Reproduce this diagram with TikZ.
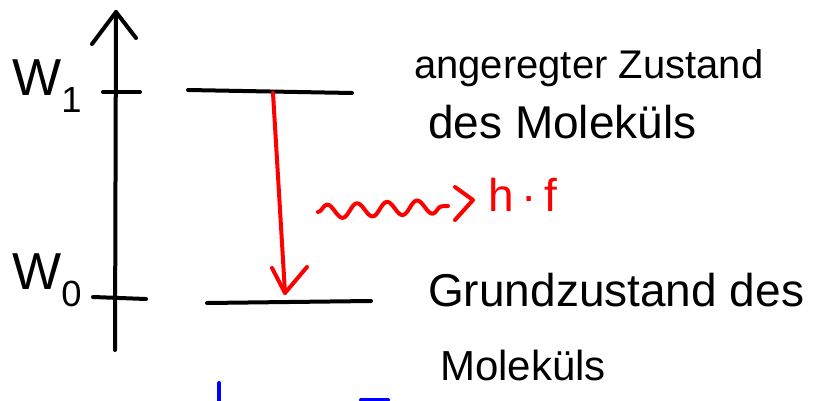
\documentclass[tikz,border=0pt]{standalone}
\usepackage{fontspec}
\setmainfont{Liberation Sans}
\usetikzlibrary{decorations.pathmorphing}
\begin{document}
\begin{tikzpicture}[x=1pt,y=-1pt,
  ink/.style={line width=4pt,line cap=round,line join=round},
  redink/.style={ink,draw={rgb,255:red,255;green,0;blue,0}},
  blueink/.style={ink,draw={rgb,255:red,0;green,0;blue,255}},
  lbl/.style={inner sep=0pt,anchor=west,font=\fontsize{42}{46}\selectfont},
  biglbl/.style={lbl,font=\fontsize{52}{56}\selectfont},
  rlbl/.style={lbl,font=\fontsize{46}{50}\selectfont,text={rgb,255:red,255;green,0;blue,0}}]
\useasboundingbox (0,0) rectangle (816,401);
% axis
\coordinate (axb) at (115,350);
\coordinate (axt) at (116,12);
\draw[ink] (axb) -- (axt);
\draw[ink] (92,44) -- (axt) -- (136,38);
% ticks
\coordinate (t1a) at (103,92); \coordinate (t1b) at (140,92);
\coordinate (t0a) at (93,297); \coordinate (t0b) at (146,299);
\draw[ink] (t1a) -- (t1b);
\draw[ink] (t0a) -- (t0b);
% labels
\node[biglbl] (w1) at (12,86) {W\textsubscript{1}};
\node[biglbl] (w0) at (12,280) {W\textsubscript{0}};
% levels
\coordinate (l1a) at (188,90); \coordinate (l1b) at (352,93);
\coordinate (l0a) at (207,303); \coordinate (l0b) at (371,301);
\draw[ink] (l1a) -- (l1b);
\draw[ink] (l0a) -- (l0b);
% red transition
\coordinate (ra) at (273,93);
\coordinate (rb) at (285,293);
\draw[redink] (ra) -- (rb);
\draw[redink] (272,268) -- (rb) -- (307,267);
% photon
\coordinate (pa) at (318,212);
\coordinate (pb) at (448,206);
\draw[redink,decorate,decoration={snake,segment length=30pt,amplitude=7pt}] (pa) -- (pb);
\draw[redink] (455,187) -- (473,200) -- (455,220);
\node[rlbl] (hf) at (488,195) {h\,·\,f};
% texts
\node[lbl,font=\fontsize{40}{44}\selectfont] (t1) at (414,68) {angeregter Zustand};
\node[lbl,font=\fontsize{46}{50}\selectfont] (t2) at (428,122) {des Moleküls};
\node[lbl,font=\fontsize{46}{50}\selectfont] (t3) at (428,290) {Grundzustand des};
\node[lbl] (t4) at (440,365) {Moleküls};
% blue marks
\coordinate (b1) at (219,383); \coordinate (b2) at (219,401);
\coordinate (b3) at (361,400); \coordinate (b4) at (388,400);
\draw[blueink] (b1) -- (b2);
\draw[blueink] (b3) -- (b4);
\end{tikzpicture}
\end{document}
